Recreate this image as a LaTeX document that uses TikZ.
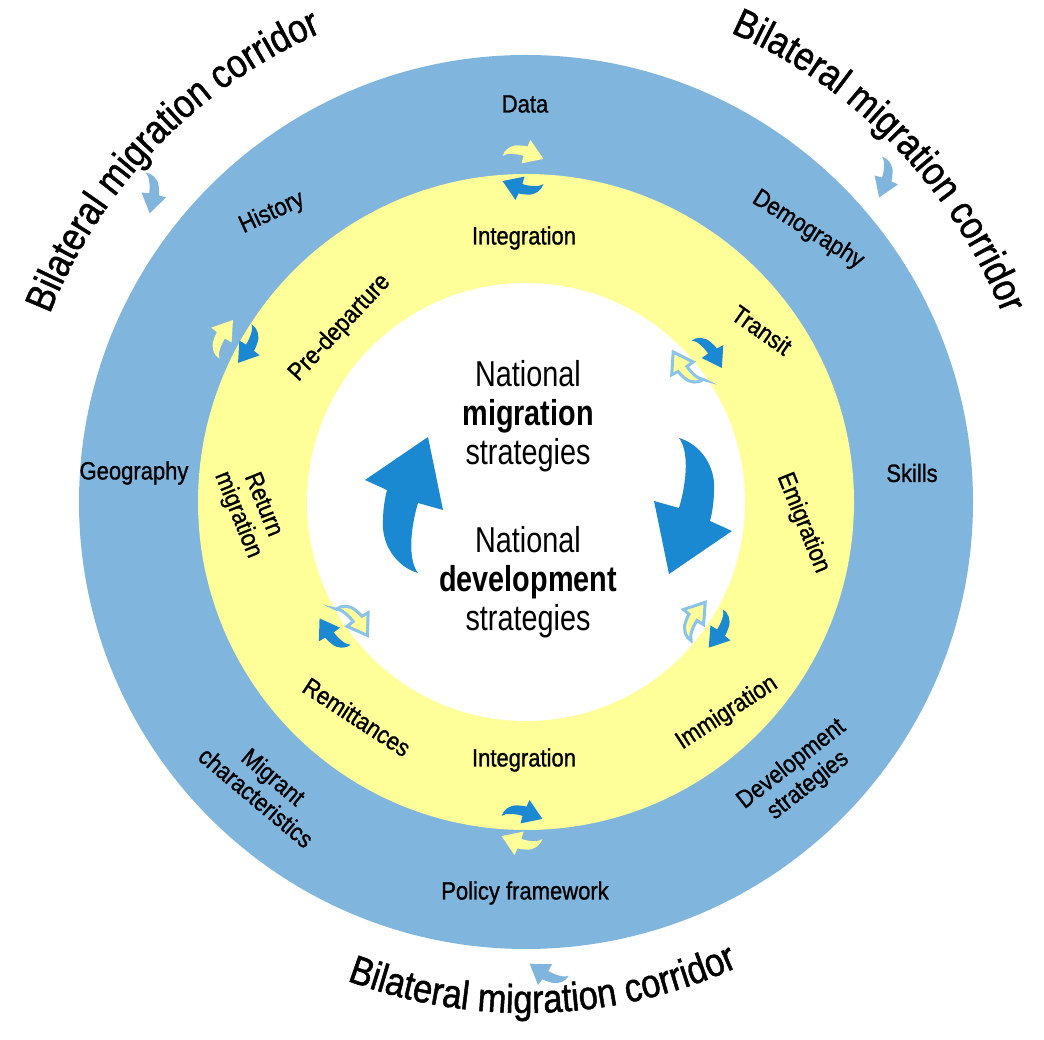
\documentclass[tikz,border=0pt]{standalone}
\usepackage{fontspec}
\setmainfont[FakeStretch=0.88,FakeBold=1.0]{Liberation Sans}
\newfontfamily\cfont[FakeStretch=0.8]{Liberation Sans}
\newfontfamily\corrfamily[FakeStretch=0.86,FakeBold=1.2]{Liberation Sans}
\usetikzlibrary{decorations.text}
\definecolor{ringblue}{HTML}{80B6DE}
\definecolor{ringyellow}{HTML}{FFFF99}
\definecolor{arrowblue}{HTML}{1B88D2}
\definecolor{edgeblue}{HTML}{8CC3E8}
\newcommand\corrfont{\corrfamily\fontsize{40}{44}\selectfont}
\tikzset{
  carrow/.pic={
    \path[pic actions] (13,-68) .. controls (-8,-62) and (-24,-40) .. (-22,-15)
      .. controls (-22,-5) and (-20,8) .. (-18,15) -- (-40,25) -- (23,68) -- (38,-5) -- (13,2)
      .. controls (5,-25) and (3,-55) .. cycle;
  },
  lab/.style={font=\fontsize{25}{27}\selectfont, align=center, inner sep=0pt},
  ctext/.style={font=\cfont\fontsize{36}{40}\selectfont, inner sep=0pt, anchor=base},
  bigblue/.style={fill=arrowblue},
  smblue/.style={fill=arrowblue, scale=0.3},
  smyel/.style={fill=ringyellow, scale=0.3},
  smyelo/.style={fill=ringyellow, draw=edgeblue, line width=3pt, scale=0.3},
  corrarrow/.style={fill=ringblue, scale=0.3},
  corrtext/.style={decorate, decoration={text along path, text align=center, text={|\corrfont|#1}}}
}
\begin{document}
\begin{tikzpicture}[x=1pt,y=1pt]
\useasboundingbox (0,0) rectangle (1044,1040);
\coordinate (C) at (526,538);
\fill[ringblue] (C) circle (447);
\fill[ringyellow] (C) circle (328);
\fill[white] (C) circle (219);

% corridor texts
\path[corrtext=Bilateral migration corridor] (C) ++(159:512) arc[start angle=159, end angle=113, radius=512];
\path[corrtext=Bilateral migration corridor] (C) ++(67:512) arc[start angle=67, end angle=21, radius=512];
\path[corrtext=Bilateral migration corridor] (C) ++(249:511) arc[start angle=249, end angle=295, radius=511];

% corridor arrows
\pic[corrarrow, rotate=-170] at (153,848) {carrow};
\pic[corrarrow, rotate=-180] at (886,863) {carrow};
\pic[corrarrow, rotate=77] at (548,65) {carrow};

% outer ring labels
\node[lab] (data) at (525,936) {Data};
\node[lab, rotate=25] (hist) at (272,827) {History};
\node[lab, rotate=-32] (demo) at (808,810) {Demography};
\node[lab] (geo) at (134,567) {Geography};
\node[lab] (skills) at (912,567) {Skills};
\node[lab, rotate=-40] (migr) at (265,253) {Migrant\\characteristics};
\node[lab, rotate=38] (devs) at (800,265) {Development\\strategies};
\node[lab] (policy) at (525,147) {Policy framework};

% inner ring labels
\node[lab] (integ1) at (524,802) {Integration};
\node[lab, rotate=47] (predep) at (340,712) {Pre-departure};
\node[lab, rotate=-35] (transit) at (762,710) {Transit};
\node[lab, rotate=-68] (ret) at (250,530) {Return\\migration};
\node[lab, rotate=-68] (emig) at (803,517) {Emigration};
\node[lab, rotate=-33] (remit) at (357,323) {Remittances};
\node[lab, rotate=33] (immig) at (727,327) {Immigration};
\node[lab] (integ2) at (524,280) {Integration};

% small exchange arrows
\pic[smyel, rotate=-90] at (523,888) {carrow};
\pic[smblue, rotate=90] at (523,852) {carrow};
\pic[smblue, rotate=-90] at (522,228) {carrow};
\pic[smyel, rotate=90] at (522,197) {carrow};
\pic[smyel, rotate=-15] at (221,702) {carrow};
\pic[smblue, rotate=165] at (250,695) {carrow};
\pic[smblue, rotate=-128] at (710,690) {carrow};
\pic[smyelo, rotate=52] at (685,670) {carrow};
\pic[smyelo, rotate=-16] at (693,420) {carrow};
\pic[smblue, rotate=164] at (721,410) {carrow};
\pic[smyelo, rotate=-126] at (355,422) {carrow};
\pic[smblue, rotate=54] at (332,404) {carrow};

% big arrows
\pic[bigblue] at (405,535) {carrow};
\pic[bigblue, rotate=180] at (692,534) {carrow};

% central text
\node[ctext] (n1) at (528,653) {National};
\node[ctext] (n2) at (528,614) {\bfseries migration};
\node[ctext] (n3) at (528,575) {strategies};
\node[ctext] (d1) at (528,487) {National};
\node[ctext] (d2) at (528,448) {\bfseries development};
\node[ctext] (d3) at (528,409) {strategies};
\end{tikzpicture}
\end{document}
